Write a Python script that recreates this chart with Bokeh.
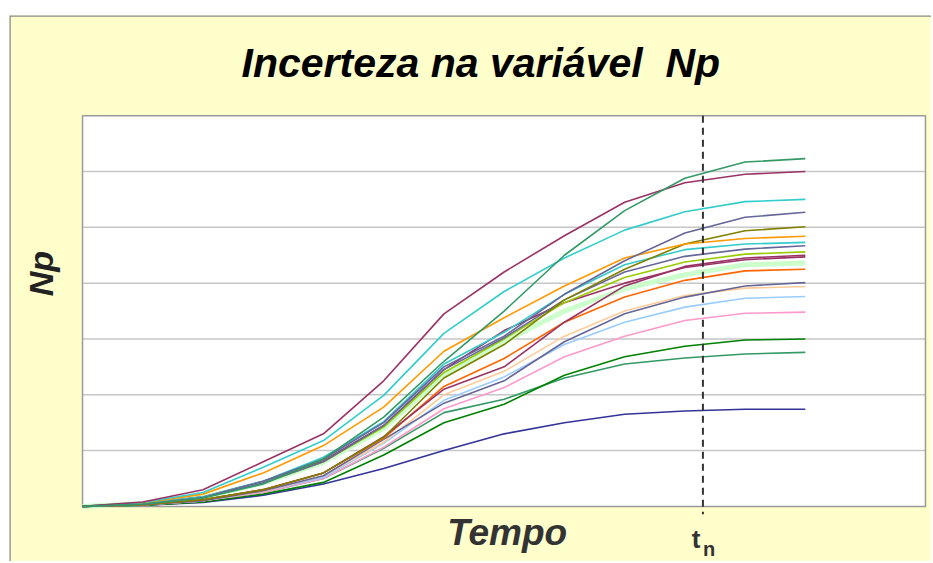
from bokeh.plotting import figure
from bokeh.models import Range1d, Label, Span, Spacer
from bokeh.layouts import column, row
from bokeh.embed import file_html
from bokeh.resources import INLINE

# time (months) and Np values for each realization
t = [0, 4, 8, 12, 16, 20, 24, 28, 32, 36, 40, 44, 48]
tn = 41.2
t_end = 55.98
grid_levels = [1, 2, 3, 4, 5, 6]
np_top = 7

seagreen1 = [0, .04, .15, .40, .85, 1.60, 2.60, 3.50, 4.50, 5.30, 5.88, 6.17, 6.23]
maroon1 = [0, .08, .30, .80, 1.30, 2.25, 3.45, 4.20, 4.85, 5.45, 5.80, 5.95, 6.00]
cyan1 = [0, .07, .25, .70, 1.18, 1.99, 3.10, 3.85, 4.45, 4.95, 5.28, 5.46, 5.50]
orange = [0, .06, .22, .60, 1.09, 1.78, 2.78, 3.38, 3.95, 4.45, 4.70, 4.80, 4.84]
slate1 = [0, .04, .16, .45, .85, 1.50, 2.50, 3.05, 3.80, 4.40, 4.90, 5.18, 5.27]
olive = [0, .03, .12, .30, .60, 1.24, 2.30, 2.90, 3.70, 4.25, 4.70, 4.94, 5.01]
cyan2 = [0, .05, .17, .45, .88, 1.52, 2.55, 3.12, 3.80, 4.33, 4.60, 4.70, 4.73]
slate2 = [0, .04, .16, .42, .80, 1.45, 2.45, 3.02, 3.70, 4.20, 4.48, 4.61, 4.67]
yellowgreen = [0, .04, .15, .42, .80, 1.42, 2.40, 3.00, 3.65, 4.10, 4.38, 4.52, 4.56]
maroon2 = [0, .05, .17, .45, .82, 1.45, 2.45, 3.15, 3.65, 4.00, 4.28, 4.42, 4.47]
maroon3 = [0, .03, .12, .30, .60, 1.25, 2.10, 2.50, 3.30, 3.95, 4.30, 4.45, 4.50]
lightgreen = [0, .05, .16, .42, .79, 1.40, 2.35, 2.95, 3.50, 3.90, 4.15, 4.33, 4.36]
orangered = [0, .03, .12, .30, .60, 1.22, 2.15, 2.65, 3.30, 3.75, 4.05, 4.22, 4.25]
slate3 = [0, .03, .10, .28, .55, 1.20, 1.85, 2.25, 2.95, 3.45, 3.75, 3.95, 4.01]
peach = [0, .03, .10, .27, .55, 1.15, 2.00, 2.42, 3.05, 3.50, 3.78, 3.91, 3.94]
lightblue = [0, .03, .10, .27, .52, 1.13, 1.90, 2.32, 2.90, 3.30, 3.57, 3.73, 3.76]
pink = [0, .03, .10, .25, .50, 1.06, 1.75, 2.13, 2.68, 3.05, 3.33, 3.46, 3.48]
green = [0, .02, .08, .22, .43, .92, 1.50, 1.83, 2.35, 2.68, 2.87, 2.98, 3.00]
seagreen2 = [0, .02, .09, .25, .50, 1.04, 1.68, 1.92, 2.30, 2.55, 2.66, 2.73, 2.76]
navy = [0, .02, .07, .20, .40, .68, 1.00, 1.30, 1.50, 1.65, 1.71, 1.74, 1.74]

series = [
    (lightgreen, "#CCFFCC", 5),
    (navy, "#333399", 1.6),
    (seagreen2, "#339966", 1.6),
    (green, "#008000", 1.6),
    (pink, "#FF99CC", 1.6),
    (lightblue, "#99CCFF", 1.6),
    (peach, "#FFCC99", 1.6),
    (slate3, "#666699", 1.6),
    (orangered, "#FF6600", 1.6),
    (maroon3, "#993366", 1.6),
    (maroon2, "#993366", 1.6),
    (yellowgreen, "#99CC00", 1.6),
    (slate2, "#666699", 1.6),
    (cyan2, "#33CCCC", 1.6),
    (olive, "#808000", 1.6),
    (orange, "#FF9900", 1.6),
    (slate1, "#666699", 1.6),
    (cyan1, "#33CCCC", 1.6),
    (maroon1, "#993366", 1.6),
    (seagreen1, "#339966", 1.6),
]

x0, x1 = -4.85, 56.38
y0, y1 = -0.987, 8.795
p = figure(width=922, height=546, output_backend="svg", toolbar_location=None,
           x_range=Range1d(x0, x1), y_range=Range1d(y0, y1),
           min_border=0)
p.axis.visible = False
p.grid.visible = False
p.background_fill_color = "#FFFFCC"
p.border_fill_color = "#FFFFCC"
p.outline_line_color = None

# yellow panel edge (top / left)
p.add_layout(Span(location=x0, dimension="height", line_color="#888888", line_width=2.5))
p.add_layout(Span(location=y1, dimension="width", line_color="#888888", line_width=2.5))

# white plot area
p.quad(left=0, right=t_end, bottom=0, top=np_top, fill_color="white", line_color=None)
p.segment(x0=[0] * len(grid_levels), x1=[t_end] * len(grid_levels), y0=grid_levels,
          y1=grid_levels, line_color="#C6C6C6", line_width=1.5)
p.quad(left=0, right=t_end, bottom=0, top=np_top, fill_color=None,
       line_color="#9A9A9A", line_width=1.5)

for ys, col, w in series:
    p.line(t, ys, line_color=col, line_width=w)

p.segment(x0=[tn], x1=[tn], y0=[np_top], y1=[-0.14], line_color="#333333",
          line_width=2, line_dash="7 5")

p.add_layout(Label(x=26.45, y=7.95, text="Incerteza na variável\u00a0 Np", text_align="center",
                   text_baseline="alphabetic", text_font="Liberation Sans",
                   text_font_style="bold italic", text_font_size="41px", text_color="black"))
p.add_layout(Label(x=28.2, y=-0.46, text="Tempo", text_align="center",
                   text_baseline="alphabetic", text_font="Liberation Sans",
                   text_font_style="bold italic", text_font_size="37px", text_color="#333333"))
p.add_layout(Label(x=-2.79, y=4.17, text="Np", text_align="center", angle=1.5708,
                   text_baseline="middle", text_font="Liberation Sans",
                   text_font_style="bold italic", text_font_size="34px", text_color="#222222"))
p.add_layout(Label(x=40.45, y=-0.58, text="t", text_align="left",
                   text_baseline="alphabetic", text_font="Liberation Sans",
                   text_font_style="bold", text_font_size="26px", text_color="#333333"))
p.add_layout(Label(x=41.2, y=-0.77, text="n", text_align="left",
                   text_baseline="alphabetic", text_font="Liberation Sans",
                   text_font_style="bold", text_font_size="20px", text_color="#333333"))

layout = column(Spacer(width=931, height=15), row(Spacer(width=9, height=546), p))
open("out.html", "w").write(file_html(layout, INLINE))
